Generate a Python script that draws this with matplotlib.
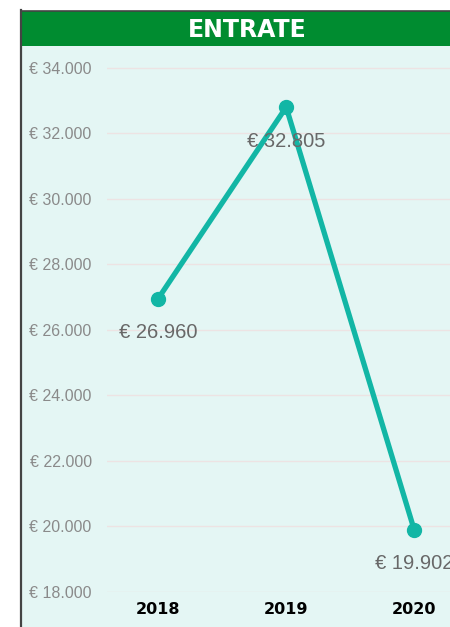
import numpy as np
import matplotlib.pyplot as plt
from matplotlib.patches import Rectangle
from matplotlib.ticker import FuncFormatter

anni = ["2018", "2019", "2020"]
entrate = [26960, 32805, 19902]
yticks = [18000, 20000, 22000, 24000, 26000, 28000, 30000, 32000, 34000]

W, H = 450, 627
fig = plt.figure(figsize=(4.5, 6.27), dpi=100, facecolor="white")
plt.rcParams["font.family"] = ["Liberation Sans", "DejaVu Sans"]

# pannello di sfondo, intestazione verde e bordo
fig.patches.append(Rectangle((21 / W, 0), 1, 1 - 46 / H, transform=fig.transFigure,
                             facecolor="#E4F6F4", edgecolor="none", zorder=-2))
fig.patches.append(Rectangle((21 / W, 1 - 46 / H), 1, 35 / H, transform=fig.transFigure,
                             facecolor="#008C30", edgecolor="none", zorder=-2))
fig.lines.append(plt.Line2D([21 / W, 21 / W], [0, 1 - 10 / H], transform=fig.transFigure,
                            color="#444444", lw=1.6, zorder=-1))
fig.lines.append(plt.Line2D([21 / W, 1], [1 - 10.5 / H, 1 - 10.5 / H], transform=fig.transFigure,
                            color="#444444", lw=1.2, zorder=-1))
fig.text(247 / W, 1 - 30 / H, "ENTRATE", color="white", fontsize=17, fontweight="bold",
         ha="center", va="center", family="DejaVu Sans")

ax = fig.add_axes([107 / W, 1 - 592 / H, 1 - 107 / W, (592 - 47) / H])
ax.set_facecolor("none")
x = np.arange(len(anni))
ax.plot(x, entrate, color="#12B6A5", lw=3.8, marker="o", markersize=10,
        solid_capstyle="round", zorder=3, clip_on=False)

for xi, v in zip(x, entrate):
    lab = "€ " + f"{v:,}".replace(",", ".")
    ax.annotate(lab, (xi, v), xytext=(0, -24.5), textcoords="offset points",
                ha="center", va="center", fontsize=14.5, color="#686868")

ax.set_xlim(-0.4, 2.28)
ax.set_ylim(18000, 34641)
ax.set_yticks(yticks)
ax.yaxis.set_major_formatter(FuncFormatter(lambda v, p: "€ " + f"{int(v):,}".replace(",", ".")))
ax.grid(axis="y", color="#EDE3E3", lw=1)
ax.set_axisbelow(True)
ax.set_xticks(x)
ax.set_xticklabels(anni, fontweight="bold", fontsize=11.5, color="black", family="DejaVu Sans")
ax.tick_params(axis="x", length=0, pad=7)
ax.tick_params(axis="y", length=0, pad=11, labelsize=11.5, labelcolor="#8A8A8A")
for s in ax.spines.values():
    s.set_visible(False)

fig.savefig("out.png", dpi=100, facecolor="white")
